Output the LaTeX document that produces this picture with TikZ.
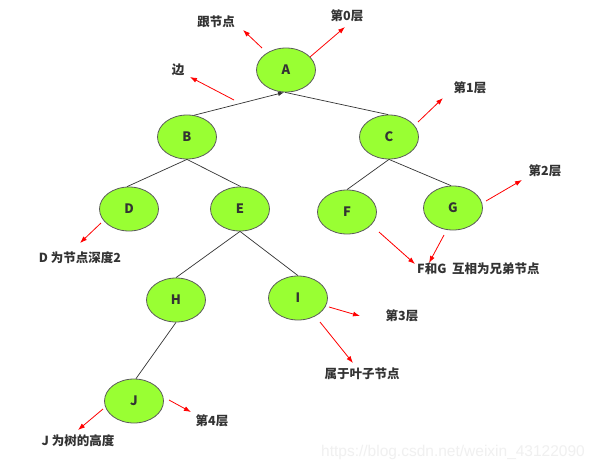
\documentclass[tikz,border=0pt]{standalone}
\usepackage{fontspec}
\setmainfont{Noto Sans CJK SC}
\newfontfamily\wmfont{Liberation Sans}
\usetikzlibrary{shapes.geometric,arrows.meta}
\definecolor{nodegreen}{RGB}{153,255,51}
\definecolor{edgegray}{RGB}{51,51,51}
\tikzset{
  treenode/.style={ellipse,draw=edgegray!80,line width=0.8pt,fill=nodegreen,minimum width=59pt,minimum height=44pt,inner sep=0pt,font=\fontsize{13}{13}\selectfont\bfseries,text=edgegray},
  treeedge/.style={draw=edgegray,line width=0.7pt},
  redarrow/.style={draw=red,line width=0.8pt,-{Latex[length=7pt,width=5pt]}},
  lbl/.style={inner sep=0pt,font=\fontsize{12.5}{13}\selectfont\bfseries,text=edgegray}
}
\begin{document}
\begin{tikzpicture}[x=1pt,y=-1pt]
\useasboundingbox[fill=white] (0,0) rectangle (599,471);
% watermark
\node[inner sep=0pt,font=\wmfont\fontsize{15.5}{16}\selectfont,text=black!6] (wm) at (453,452) {https://blog.csdn.net/weixin\_43122090};
% tree nodes
\node[treenode] (A) at (286,70) {A};
\node[treenode] (B) at (187,137) {B};
\node[treenode] (C) at (389,137) {C};
\node[treenode] (D) at (129,209) {D};
\node[treenode] (E) at (240,209) {E};
\node[treenode] (F) at (347,212) {F};
\node[treenode] (G) at (453,208) {G};
\node[treenode] (H) at (176,300) {H};
\node[treenode] (I) at (298,298) {I};
\node[treenode] (J) at (134,401) {J};
% edges
\draw[treeedge,-{Latex[length=6pt,width=4.5pt]}] (B.72) -- (A.265);
\draw[treeedge] (A.268) -- (C.92);
\draw[treeedge] (B.south) -- (D.95);
\draw[treeedge] (B.south) -- (E.88);
\draw[treeedge] (C.south) -- (F.90);
\draw[treeedge] (C.south) -- (G.95);
\draw[treeedge] (E.south) -- (H.90);
\draw[treeedge] (E.south) -- (I.90);
\draw[treeedge] (H.south) -- (J.85);
% labels
\node[lbl] (tRoot) at (216,22) {跟节点};
\node[lbl] (tL0) at (347,16) {第0层};
\node[lbl] (tEdge) at (178,70) {边};
\node[lbl] (tL1) at (470,88) {第1层};
\node[lbl] (tL2) at (545,171) {第2层};
\node[lbl,anchor=west] (tSib) at (417,269) {F和G\ \ 互相为兄弟节点};
\node[lbl] (tDepth) at (80,258) {D 为节点深度2};
\node[lbl] (tL3) at (402,316) {第3层};
\node[lbl] (tLeaf) at (362,374) {属于叶子节点};
\node[lbl] (tL4) at (212,421) {第4层};
\node[lbl] (tHeight) at (78,441) {J 为树的高度};
% red arrow coordinates
\coordinate (r1s) at (262,48);  \coordinate (r1e) at (243,30);
\coordinate (r2s) at (310,57);  \coordinate (r2e) at (345,27);
\coordinate (r3s) at (234,100); \coordinate (r3e) at (190,77);
\coordinate (r4s) at (418,122); \coordinate (r4e) at (443,98);
\coordinate (r5s) at (486,201); \coordinate (r5e) at (522,180);
\coordinate (r6s) at (379,232); \coordinate (r6e) at (415,264);
\coordinate (r7s) at (444,235); \coordinate (r7e) at (429,263);
\coordinate (r8s) at (101,223); \coordinate (r8e) at (80,243);
\coordinate (r9s) at (329,307); \coordinate (r9e) at (360,316);
\coordinate (r10s) at (320,322); \coordinate (r10e) at (353,363);
\coordinate (r11s) at (169,400); \coordinate (r11e) at (191,412);
\coordinate (r12s) at (103,409); \coordinate (r12e) at (78,430);
\draw[redarrow] (r1s) -- (r1e);
\draw[redarrow] (r2s) -- (r2e);
\draw[redarrow] (r3s) -- (r3e);
\draw[redarrow] (r4s) -- (r4e);
\draw[redarrow] (r5s) -- (r5e);
\draw[redarrow] (r6s) -- (r6e);
\draw[redarrow] (r7s) -- (r7e);
\draw[redarrow] (r8s) -- (r8e);
\draw[redarrow] (r9s) -- (r9e);
\draw[redarrow] (r10s) -- (r10e);
\draw[redarrow] (r11s) -- (r11e);
\draw[redarrow] (r12s) -- (r12e);
\end{tikzpicture}
\end{document}
